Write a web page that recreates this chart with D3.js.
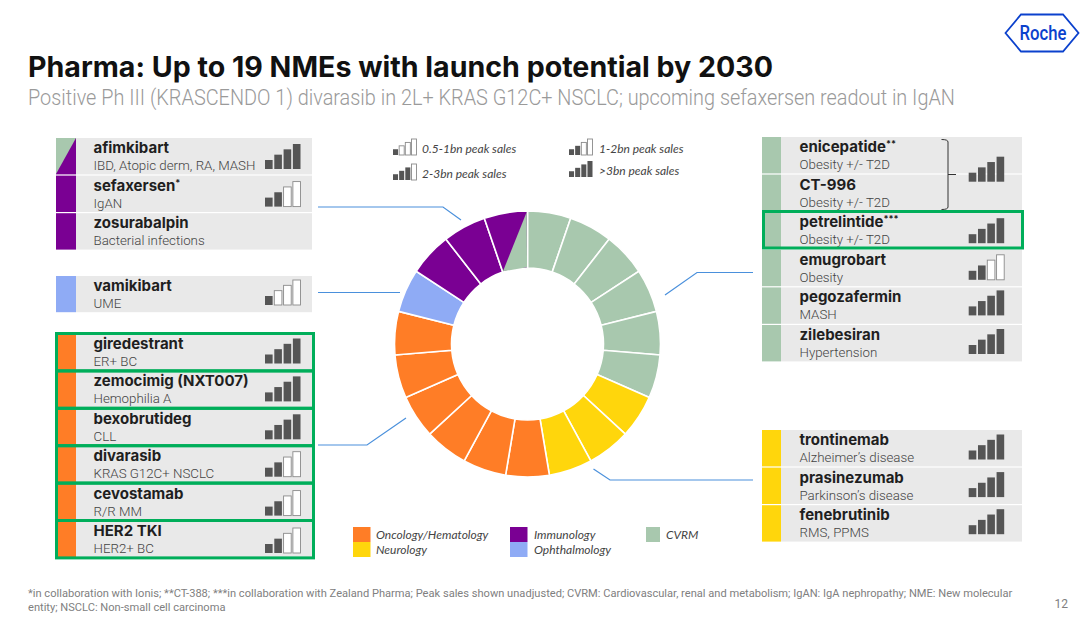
<!DOCTYPE html>
<html>
<head>
<meta charset="utf-8">
<script src="https://cdn.jsdelivr.net/npm/d3@7"></script>
<style>
  html, body { margin: 0; padding: 0; background: #fff; }
  svg { display: block; }
  text { font-family: Inter, Roboto, sans-serif; }
  .name { font-weight: 700; font-size: 15px; fill: #1f1f1f; }
  .sub { font-family: Roboto, sans-serif; font-weight: 300; font-size: 13.3px; fill: #444; }
  .key { font-family: Lato, sans-serif; font-style: italic; font-size: 12px; fill: #444; }
</style>
</head>
<body>
<div id="chart"></div>
<script>
// Therapy areas, legend order
const areas = ["Oncology/Hematology", "Neurology", "Immunology", "Ophthalmology", "CVRM"];
const areaColors = ["#ff7d26", "#ffd60c", "#7a0093", "#8fabf5", "#a8c8ae"];

// One entry per NME on the donut, clockwise from 12 o'clock
const sliceAreas = [
  "CVRM", "CVRM", "CVRM", "CVRM", "CVRM", "CVRM",
  "Neurology", "Neurology", "Neurology",
  "Oncology/Hematology", "Oncology/Hematology", "Oncology/Hematology",
  "Oncology/Hematology", "Oncology/Hematology", "Oncology/Hematology",
  "Ophthalmology",
  "Immunology", "Immunology", "Immunology"
];

// Peak sales tiers: number of filled bars in the icon
const tierLabels = ["0.5-1bn peak sales", "1-2bn peak sales", "2-3bn peak sales", ">3bn peak sales"];
const barLevels = [1, 2, 3, 4];

// Panels: name, star suffix, indication, filled bars (0 = no icon)
const immunoNames = ["afimkibart", "sefaxersen", "zosurabalpin"];
const immunoStars = ["", "*", ""];
const immunoSubs = ["IBD, Atopic derm, RA, MASH", "IgAN", "Bacterial infections"];
const immunoTiers = [4, 2, 0];

const ophthNames = ["vamikibart"];
const ophthStars = [""];
const ophthSubs = ["UME"];
const ophthTiers = [1];

const oncoNames = ["giredestrant", "zemocimig (NXT007)", "bexobrutideg", "divarasib", "cevostamab", "HER2 TKI"];
const oncoStars = ["", "", "", "", "", ""];
const oncoSubs = ["ER+ BC", "Hemophilia A", "CLL", "KRAS G12C+ NSCLC", "R/R MM", "HER2+ BC"];
const oncoTiers = [4, 4, 4, 2, 2, 2];

const cvrmNames = ["enicepatide", "CT-996", "petrelintide", "emugrobart", "pegozafermin", "zilebesiran"];
const cvrmStars = ["**", "", "***", "", "", ""];
const cvrmSubs = ["Obesity +/- T2D", "Obesity +/- T2D", "Obesity +/- T2D", "Obesity", "MASH", "Hypertension"];
const cvrmTiers = [0, 0, 4, 2, 4, 4];
const sharedCvrmTier = 4;

const neuroNames = ["trontinemab", "prasinezumab", "fenebrutinib"];
const neuroStars = ["", "", ""];
const neuroSubs = ["Alzheimer’s disease", "Parkinson’s disease", "RMS, PPMS"];
const neuroTiers = [4, 4, 4];

const titleText = "Pharma: Up to 19 NMEs with launch potential by 2030";
const subtitleText = "Positive Ph III (KRASCENDO 1) divarasib in 2L+ KRAS G12C+ NSCLC; upcoming sefaxersen readout in IgAN";
const footnotes = [
  "*in collaboration with Ionis; **CT-388; ***in collaboration with Zealand Pharma; Peak sales shown unadjusted; CVRM: Cardiovascular, renal and metabolism; IgAN: IgA nephropathy; NME: New molecular",
  "entity; NSCLC: Non-small cell carcinoma"
];

const width = 1080, height = 624;
const svg = d3.select("#chart").append("svg")
  .attr("width", width)
  .attr("height", height)
  .attr("viewBox", [0, 0, width, height]);

const color = d3.scaleOrdinal().domain(areas).range(areaColors);
const GREEN_BOX = "#00ae5a", LINE_BLUE = "#4a90dc", ROCHE_BLUE = "#0b41cd";

// Header
svg.append("text").attr("x", 28).attr("y", 77)
  .attr("textLength", 745).attr("lengthAdjust", "spacingAndGlyphs")
  .style("font-size", "28px").style("font-weight", 700).style("fill", "#111")
  .text(titleText);
svg.append("text").attr("x", 28).attr("y", 105)
  .attr("textLength", 927).attr("lengthAdjust", "spacingAndGlyphs")
  .style("font-family", "Roboto, sans-serif").style("font-weight", 300)
  .style("font-size", "22px").style("fill", "#9a9a9a")
  .text(subtitleText);

// Roche hexagon
const logo = svg.append("g");
logo.append("path")
  .attr("d", d3.line()([[1005.5, 33], [1021, 14.5], [1063, 14.5], [1078.5, 33], [1063, 51.5], [1021, 51.5]]) + "Z")
  .attr("fill", "none").attr("stroke", ROCHE_BLUE).attr("stroke-width", 1.8);
logo.append("text").attr("x", 1043).attr("y", 39.5)
  .attr("text-anchor", "middle").attr("textLength", 47).attr("lengthAdjust", "spacingAndGlyphs")
  .style("font-family", "Roboto, sans-serif").style("font-weight", 500).style("font-size", "20.5px").style("fill", ROCHE_BLUE)
  .text("Roche");

// Small staircase icon, shared by the panels and the key
function drawIcon(parent, x0, baseline, w, h, filled) {
  const x = d3.scaleBand().domain(barLevels).range([x0, x0 + w]).paddingInner(0.18);
  const y = d3.scaleLinear().domain([1, 4]).range([0.36 * h, h]);
  parent.append("g").selectAll("rect")
    .data(barLevels)
    .join("rect")
      .attr("x", d => x(d))
      .attr("y", d => baseline - y(d))
      .attr("width", x.bandwidth())
      .attr("height", d => y(d))
      .attr("fill", d => d <= filled ? "#555" : "#fff")
      .attr("stroke", d => d <= filled ? "#555" : "#8a8a8a")
      .attr("stroke-width", d => d <= filled ? 0 : 0.9);
}

// Draw one block of rows. iconDy gives each icon's baseline below its row top
function drawPanel(opts) {
  const { names, stars, subs, tiers, area, top, step, left, right, barW, iconX, iconDy } = opts;
  const g = svg.append("g");
  const rows = g.selectAll("g").data(names).join("g")
    .attr("transform", (d, i) => `translate(0,${top + i * step})`);

  rows.append("rect").attr("x", left + barW).attr("y", 0)
    .attr("width", right - left - barW).attr("height", step - 1.2).attr("fill", "#e9e9e9");
  rows.append("rect").attr("x", left).attr("y", 0)
    .attr("width", barW).attr("height", step - 1.2).attr("fill", color(area));

  const t = rows.append("text").attr("class", "name").attr("x", left + 37.5).attr("y", 15);
  t.append("tspan").text(d => d);
  t.append("tspan").attr("dy", -5).style("font-size", "9px").text((d, i) => stars[i]);

  rows.append("text").attr("class", "sub").attr("x", left + 37.5).attr("y", 32)
    .text((d, i) => subs[i]);

  rows.each(function(d, i) {
    if (tiers[i]) drawIcon(d3.select(this), iconX, iconDy[i], 35.5, 25, tiers[i]);
  });
}

drawPanel({ names: immunoNames, stars: immunoStars, subs: immunoSubs, tiers: immunoTiers, area: "Immunology", top: 138, step: 37.6, left: 56, right: 312, barW: 20, iconX: 265, iconDy: [31, 31, 0] });
drawPanel({ names: ophthNames, stars: ophthStars, subs: ophthSubs, tiers: ophthTiers, area: "Ophthalmology", top: 276, step: 37.4, left: 56, right: 312, barW: 20, iconX: 265, iconDy: [29] });
drawPanel({ names: oncoNames, stars: oncoStars, subs: oncoSubs, tiers: oncoTiers, area: "Oncology/Hematology", top: 334, step: 37.4, left: 56, right: 312, barW: 20, iconX: 265, iconDy: [29.5, 30, 30.5, 30.5, 32, 32] });
drawPanel({ names: cvrmNames, stars: cvrmStars, subs: cvrmSubs, tiers: cvrmTiers, area: "CVRM", top: 137, step: 37.6, left: 762, right: 1022, barW: 19, iconX: 968.7, iconDy: [0, 0, 31, 30, 28, 29] });
drawPanel({ names: neuroNames, stars: neuroStars, subs: neuroSubs, tiers: neuroTiers, area: "Neurology", top: 430, step: 37.6, left: 762, right: 1022, barW: 19, iconX: 968.7, iconDy: [29.5, 29.5, 29] });

// Diagonal on afimkibart's strip: half CVRM, half immunology
svg.append("path")
  .attr("d", d3.line()([[56, 138], [76, 138], [56, 174]]) + "Z")
  .attr("fill", color("CVRM"));

// Green highlight boxes
const oncoBox = d3.range(oncoNames.length);
svg.append("g").selectAll("rect").data(oncoBox).join("rect")
  .attr("x", 56.5).attr("y", d => 333.5 + d * 37.4)
  .attr("width", 257).attr("height", 37.4)
  .attr("fill", "none").attr("stroke", GREEN_BOX).attr("stroke-width", 3);
svg.append("rect").attr("x", 763.5).attr("y", 211.5).attr("width", 259).attr("height", 36.5)
  .attr("fill", "none").attr("stroke", GREEN_BOX).attr("stroke-width", 3);

// Shared icon and bracket for enicepatide and CT-996
drawIcon(svg, 968.7, 181.7, 35.5, 25, sharedCvrmTier);
svg.append("path")
  .attr("d", "M941.5,139.5 Q948,139.5 948,142 V207 Q948,209.5 941.5,209.5 M948,174.5 H956")
  .attr("fill", "none").attr("stroke", "#333").attr("stroke-width", 1);

// Donut
const cx = 527.5, cy = 344, outerR = 133, innerR = 76;
const pie = d3.pie().value(1).sort(null);
const arc = d3.arc().innerRadius(innerR).outerRadius(outerR);
const slices = pie(sliceAreas);
svg.append("g")
    .attr("transform", `translate(${cx},${cy})`)
  .selectAll("path")
  .data(slices)
  .join("path")
    .attr("d", arc)
    .attr("fill", d => color(d.data))
    .attr("stroke", "#fff")
    .attr("stroke-width", 1.6);

// Last slice holds afimkibart: a CVRM wedge cut across it
const last = slices[slices.length - 1];
const gapA = 0.006;
const wedge = [
  d3.pointRadial(last.endAngle - gapA, outerR - 1),
  d3.pointRadial(last.endAngle - gapA, innerR + 0.8),
  d3.pointRadial(last.startAngle + gapA, innerR + 0.8)
];
svg.append("path")
  .attr("transform", `translate(${cx},${cy})`)
  .attr("d", d3.line()(wedge) + "Z")
  .attr("fill", color("CVRM"));

// Leader lines
const leaders = [
  [[318, 207], [443, 207], [461, 220]],
  [[318, 292.5], [400, 292.5]],
  [[318, 445], [367, 445], [406, 418]],
  [[753, 272.5], [697, 272.5], [665, 295]],
  [[753, 480], [610, 480], [593.5, 469]]
];
svg.append("g").selectAll("path").data(leaders).join("path")
  .attr("d", d => d3.line()(d))
  .attr("fill", "none").attr("stroke", LINE_BLUE).attr("stroke-width", 1.2);

// Peak sales key
const keySpots = [[393, 155, 422, 153], [569, 155, 599, 153], [393, 180, 422, 178], [569, 177, 599, 175]];
tierLabels.forEach((label, i) => {
  const [ix, iy, tx, ty] = keySpots[i];
  drawIcon(svg, ix, iy, 23.5, 16, barLevels[i]);
  svg.append("text").attr("class", "key").attr("x", tx).attr("y", ty).text(label);
});

// Area key
const areaSpots = [[353, 527, 376], [353, 542, 376], [510, 527, 534], [510, 542, 534], [646, 527, 666]];
const keyG = svg.append("g").selectAll("g").data(areas).join("g");
keyG.append("rect")
  .attr("x", (d, i) => areaSpots[i][0]).attr("y", (d, i) => areaSpots[i][1])
  .attr("width", (d, i) => i === 4 ? 14 : 17.5).attr("height", 15)
  .attr("fill", d => color(d));
keyG.append("text").attr("class", "key")
  .attr("x", (d, i) => areaSpots[i][2]).attr("y", (d, i) => areaSpots[i][1] + 12)
  .text(d => d);

// Footer
svg.append("g").selectAll("text").data(footnotes).join("text")
  .attr("x", 28).attr("y", (d, i) => 596.5 + i * 14)
  .style("font-family", "Roboto, sans-serif").style("font-size", "11.1px").style("fill", "#808080")
  .text(d => d);
svg.append("text").attr("x", 1068).attr("y", 608).attr("text-anchor", "end")
  .style("font-family", "Roboto, sans-serif").style("font-size", "12px").style("fill", "#808080")
  .text("12");
</script>
</body>
</html>
